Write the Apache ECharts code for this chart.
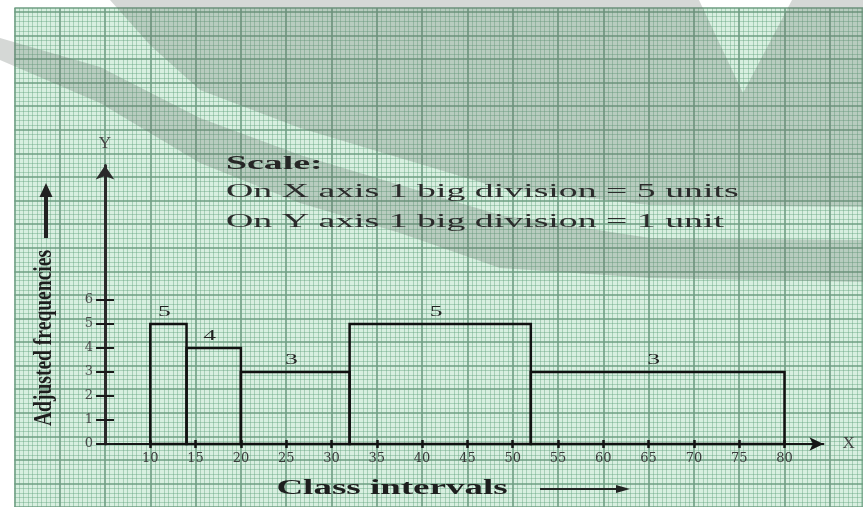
<!DOCTYPE html>
<html>
<head>
<meta charset="utf-8">
<script src="https://cdn.jsdelivr.net/npm/echarts@6/dist/echarts.min.js"></script>
<style>html,body{margin:0;padding:0;background:#fff;}#c{width:863px;height:507px;}</style>
</head>
<body>
<div id="c"></div>
<script>
// ---- data ----
const classStart = [10, 14, 20, 32, 52];
const classEnd = [14, 20, 32, 52, 80];
const adjustedFreq = [5, 4, 3, 5, 3];
const xTickValues = [10, 15, 20, 25, 30, 35, 40, 45, 50, 55, 60, 65, 70, 75, 80];
const yTickValues = [0, 1, 2, 3, 4, 5, 6];
const scaleLines = ['Scale:', 'On X axis 1 big division = 5 units', 'On Y axis 1 big division = 1 unit'];

// ---- layout ----
const KX = 9.06, KY = 24;           // px per unit
const ORIGIN_X = 105, ORIGIN_Y = 444; // pixel of (x=5, y=0)
const X_MIN = 5, X_MAX = 84.3, Y_MAX = 11.6;
const PAPER_LEFT = ORIGIN_X - (X_MIN + 5) * KX;  // x = -5
const PAPER_TOP = 8;
const PAPER_W = 863 - PAPER_LEFT;
const PAPER_YMIN = -3;
const PAPER_YMAX = (ORIGIN_Y - PAPER_TOP) / KY;
const PAPER_H = (PAPER_YMAX - PAPER_YMIN) * KY;

const histData = classStart.map((s, i) => [s, classEnd[i], adjustedFreq[i]]);

const chart = echarts.init(document.getElementById('c'));

const serif = '"Liberation Serif", "DejaVu Serif", serif';
const grey = 'rgba(100,112,105,0.27)';

function arrowGroup(x1, y1, x2, y2, w, head, hw) {
  const ang = Math.atan2(y2 - y1, x2 - x1);
  const bx = x2 - head * Math.cos(ang), by = y2 - head * Math.sin(ang);
  const px = -Math.sin(ang) * hw, py = Math.cos(ang) * hw;
  return {
    type: 'group', z: 6,
    children: [
      {type: 'line', z: 6, shape: {x1: x1, y1: y1, x2: bx, y2: by}, style: {stroke: '#222', lineWidth: w}},
      {type: 'polygon', z: 6, shape: {points: [[x2, y2], [bx + px, by + py], [bx - px, by - py]]}, style: {fill: '#222'}}
    ]
  };
}

const option = {
  animation: false,
  backgroundColor: '#ffffff',
  grid: [
    {left: PAPER_LEFT, top: PAPER_TOP, width: PAPER_W, height: PAPER_H, show: true,
     backgroundColor: '#d8efe0', borderWidth: 0, z: 0},
    {left: ORIGIN_X, top: ORIGIN_Y - Y_MAX * KY, width: (X_MAX - X_MIN) * KX, height: Y_MAX * KY,
     show: false, z: 3}
  ],
  xAxis: [
    {gridIndex: 0, type: 'value', min: -5, max: -5 + PAPER_W / KX, interval: 5, silent: true, z: 1,
     axisLine: {show: false}, axisTick: {show: false}, axisLabel: {show: false},
     splitLine: {show: true, lineStyle: {color: '#6f9e83', width: 1.6}},
     minorTick: {show: false, splitNumber: 10},
     minorSplitLine: {show: true, lineStyle: {color: 'rgba(95,160,122,0.4)', width: 1}}},
    {gridIndex: 1, type: 'value', position: 'bottom', min: X_MIN, max: X_MAX, interval: 5, z: 4,
     name: 'X', nameLocation: 'end', nameGap: 19,
     nameTextStyle: {fontFamily: serif, fontSize: 17, color: '#444'},
     axisLine: {show: true, onZero: false, symbol: ['none', 'arrow'], symbolSize: [10, 14],
                lineStyle: {color: '#151515', width: 2}},
     axisTick: {show: true, customValues: xTickValues, length: 4, lineStyle: {color: '#151515', width: 2.5}},
     axisLabel: {show: true, customValues: xTickValues, margin: 8, color: '#3a3a3a',
                 fontFamily: '"DejaVu Serif", serif', fontSize: 13},
     splitLine: {show: false}},
    {gridIndex: 1, type: 'value', position: 'bottom', min: X_MIN, max: X_MAX, interval: 5, z: 4,
     axisLine: {show: false, onZero: false},
     axisTick: {show: true, inside: true, customValues: xTickValues, length: 4, lineStyle: {color: '#151515', width: 2.5}},
     axisLabel: {show: false}, splitLine: {show: false}}
  ],
  yAxis: [
    {gridIndex: 0, type: 'value', min: PAPER_YMIN, max: PAPER_YMAX, interval: 1, silent: true, z: 1,
     axisLine: {show: false}, axisTick: {show: false}, axisLabel: {show: false},
     splitLine: {show: true, lineStyle: {color: '#6f9e83', width: 1.6}},
     minorTick: {show: false, splitNumber: 5},
     minorSplitLine: {show: true, lineStyle: {color: 'rgba(95,160,122,0.4)', width: 1}}},
    {gridIndex: 1, type: 'value', position: 'left', min: 0, max: Y_MAX, interval: 1, z: 4,
     name: 'Y', nameLocation: 'end', nameGap: 14,
     nameTextStyle: {fontFamily: serif, fontSize: 17, color: '#444', align: 'center'},
     axisLine: {show: true, onZero: false, symbol: ['none', 'arrow'], symbolSize: [14, 14],
                lineStyle: {color: '#2a2a2a', width: 3}},
     axisTick: {show: true, customValues: yTickValues, length: 9, lineStyle: {color: '#1a1a1a', width: 2}},
     axisLabel: {show: true, customValues: yTickValues, margin: 12, color: '#4a4a4a',
                 fontFamily: '"DejaVu Serif", serif', fontSize: 13},
     splitLine: {show: false}},
    {gridIndex: 1, type: 'value', position: 'left', offset: 0, min: 0, max: Y_MAX, interval: 1, z: 4,
     axisLine: {show: false, onZero: false},
     axisTick: {show: true, inside: true, customValues: yTickValues, length: 9, lineStyle: {color: '#1a1a1a', width: 2}},
     axisLabel: {show: false}, splitLine: {show: false}}
  ],
  series: [{
    type: 'custom', xAxisIndex: 1, yAxisIndex: 1, z: 5, clip: false,
    data: histData,
    renderItem: function (params, api) {
      const s = api.value(0), e = api.value(1), f = api.value(2);
      const p0 = api.coord([s, 0]);
      const p1 = api.coord([e, f]);
      return {
        type: 'group',
        children: [
          {type: 'rect', shape: {x: p0[0], y: p1[1], width: p1[0] - p0[0], height: p0[1] - p1[1]},
           style: {fill: 'none', stroke: '#111', lineWidth: 2.5}},
          {type: 'text', x: (p0[0] + p1[0]) / 2 - 4, y: p1[1] - 12, scaleX: 1.7,
           style: {text: String(f), font: '15px ' + serif, fill: '#222', align: 'center', verticalAlign: 'middle'}}
        ]
      };
    }
  }],
  graphic: [
    // watermark (upper band with V notch)
    {type: 'polygon', z: 2, silent: true,
     shape: {points: [[110, 0], [699, 0], [743, 93], [792, 0], [863, 0], [863, 207], [650, 205], [500, 188],
                      [400, 158], [300, 128], [200, 90], [150, 45]]},
     style: {fill: grey}},
    // watermark (lower band)
    {type: 'polygon', z: 2, silent: true,
     shape: {points: [[0, 38], [100, 67], [200, 118], [300, 155], [400, 185], [500, 215], [650, 238], [863, 240],
                      [863, 282], [650, 278], [500, 268], [400, 233], [300, 203], [200, 163], [100, 103], [0, 60]]},
     style: {fill: grey}},
    // scale text
    {type: 'text', x: 226, y: 164, scaleX: 2.1, z: 6,
     style: {text: scaleLines[0], font: 'bold 18px ' + serif, fill: '#262626', verticalAlign: 'middle'}},
    {type: 'text', x: 226, y: 192, scaleX: 2.1, z: 6,
     style: {text: scaleLines[1], font: '18px ' + serif, fill: '#2b2b2b', verticalAlign: 'middle'}},
    {type: 'text', x: 226, y: 222, scaleX: 2.1, z: 6,
     style: {text: scaleLines[2], font: '18px ' + serif, fill: '#2b2b2b', verticalAlign: 'middle'}},
    // axis titles
    {type: 'text', x: 392, y: 489, scaleX: 1.85, z: 6,
     style: {text: 'Class intervals', font: 'bold 20px ' + serif, fill: '#1e1e1e', align: 'center', verticalAlign: 'middle'}},
    {type: 'text', x: 45, y: 338, rotation: Math.PI / 2, scaleX: 1.15, scaleY: 1.45, z: 6,
     style: {text: 'Adjusted frequencies', font: 'bold 17px ' + serif, fill: '#1e1e1e', align: 'center', verticalAlign: 'middle'}},
    arrowGroup(540, 489, 630, 489, 2, 14, 4),
    arrowGroup(46, 238, 46, 183, 4, 14, 6.5)
  ]
};
chart.setOption(option);
</script>
</body>
</html>
